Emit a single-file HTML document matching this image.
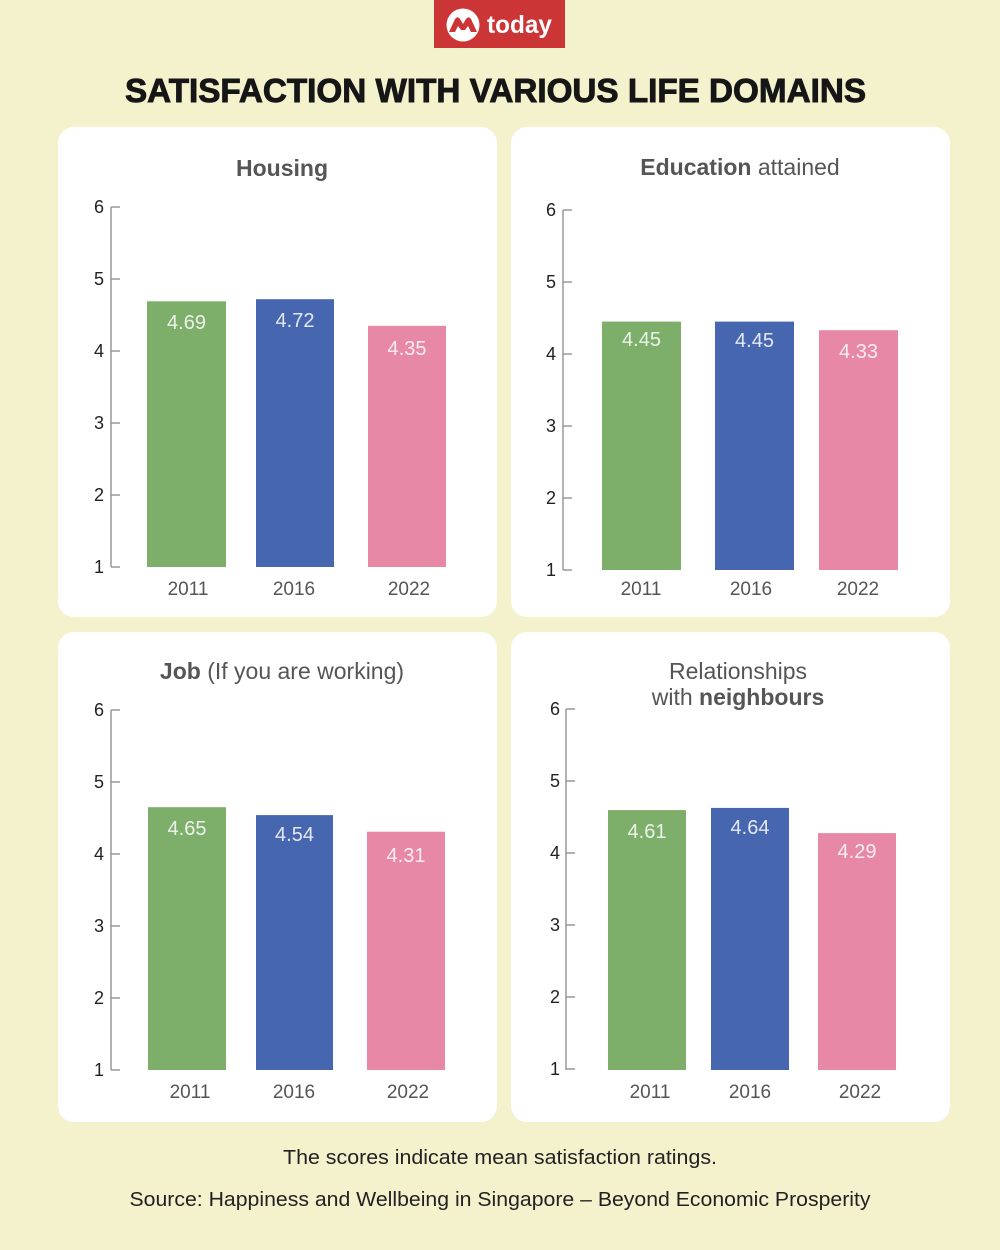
<!DOCTYPE html>
<html>
<head>
<meta charset="utf-8">
<style>
html,body{margin:0;padding:0;background:#f3f2cd;}
svg{display:block;}
text{font-family:"Liberation Sans",Arial,sans-serif;}
</style>
</head>
<body>
<svg width="1000" height="1250" viewBox="0 0 1000 1250" xmlns="http://www.w3.org/2000/svg">
<rect x="0" y="0" width="1000" height="1250" fill="#f3f2cd"/>

<!-- Logo -->
<rect x="434" y="0" width="131" height="48" fill="#cc3535"/>
<circle cx="463" cy="25" r="16.5" fill="#ffffff"/>
<path d="M449,32 L455,19 Q457.5,15.5 460,19 L463,24 L466,19 Q468.5,15.5 471,19 L477,32 L471,32 L468,26 L465,30 L461,30 L458,26 L455,32 Z" fill="#cc3535"/>
<text x="487" y="33" font-size="25" font-weight="bold" fill="#ffffff" textLength="65" lengthAdjust="spacingAndGlyphs">today</text>

<!-- Main title -->
<text x="125" y="102" font-size="33" font-weight="bold" fill="#161616" stroke="#161616" stroke-width="0.9" textLength="741" lengthAdjust="spacingAndGlyphs">SATISFACTION WITH VARIOUS LIFE DOMAINS</text>

<!-- Panels -->
<rect x="58" y="127" width="439" height="490" rx="16" fill="#ffffff"/>
<rect x="511" y="127" width="439" height="490" rx="16" fill="#ffffff"/>
<rect x="58" y="632" width="439" height="490" rx="16" fill="#ffffff"/>
<rect x="511" y="632" width="439" height="490" rx="16" fill="#ffffff"/>

<!-- Panel titles -->
<text x="282" y="176" font-size="23" font-weight="bold" fill="#555" text-anchor="middle">Housing</text>
<text x="740" y="175" font-size="23" fill="#555" text-anchor="middle"><tspan font-weight="bold">Education</tspan> attained</text>
<text x="282" y="679" font-size="23" fill="#555" text-anchor="middle"><tspan font-weight="bold">Job</tspan> (If you are working)</text>
<text x="738" y="679" font-size="23" fill="#555" text-anchor="middle">Relationships</text>
<text x="738" y="705" font-size="23" fill="#555" text-anchor="middle">with <tspan font-weight="bold">neighbours</tspan></text>

<!-- Panel 1 axis -->
<g stroke="#999" stroke-width="1.5" fill="none">
<line x1="111" y1="207" x2="111" y2="567"/>
<line x1="111" y1="207" x2="120" y2="207"/>
<line x1="111" y1="279" x2="120" y2="279"/>
<line x1="111" y1="351" x2="120" y2="351"/>
<line x1="111" y1="423" x2="120" y2="423"/>
<line x1="111" y1="495" x2="120" y2="495"/>
<line x1="111" y1="567" x2="120" y2="567"/>
</g>
<g font-size="18" fill="#222" text-anchor="end">
<text x="104" y="213">6</text>
<text x="104" y="285">5</text>
<text x="104" y="357">4</text>
<text x="104" y="429">3</text>
<text x="104" y="501">2</text>
<text x="104" y="573">1</text>
</g>
<rect x="147" y="301.3" width="79" height="265.7" fill="#7daf6b"/>
<rect x="256" y="299.2" width="78" height="267.8" fill="#4766b0"/>
<rect x="368" y="325.8" width="78" height="241.2" fill="#e688a6"/>
<g font-size="20" fill="#ffffff" fill-opacity="0.85" text-anchor="middle">
<text x="186.5" y="329">4.69</text>
<text x="295" y="327">4.72</text>
<text x="407" y="355">4.35</text>
</g>
<g font-size="19" fill="#555" text-anchor="middle">
<text x="188" y="595">2011</text>
<text x="294" y="595">2016</text>
<text x="409" y="595">2022</text>
</g>

<!-- Panel 2 axis -->
<g stroke="#999" stroke-width="1.5" fill="none">
<line x1="563" y1="210" x2="563" y2="570"/>
<line x1="563" y1="210" x2="572" y2="210"/>
<line x1="563" y1="282" x2="572" y2="282"/>
<line x1="563" y1="354" x2="572" y2="354"/>
<line x1="563" y1="426" x2="572" y2="426"/>
<line x1="563" y1="498" x2="572" y2="498"/>
<line x1="563" y1="570" x2="572" y2="570"/>
</g>
<g font-size="18" fill="#222" text-anchor="end">
<text x="556" y="216">6</text>
<text x="556" y="288">5</text>
<text x="556" y="360">4</text>
<text x="556" y="432">3</text>
<text x="556" y="504">2</text>
<text x="556" y="576">1</text>
</g>
<rect x="602" y="321.6" width="79" height="248.4" fill="#7daf6b"/>
<rect x="715" y="321.6" width="79" height="248.4" fill="#4766b0"/>
<rect x="819" y="330.2" width="79" height="239.8" fill="#e688a6"/>
<g font-size="20" fill="#ffffff" fill-opacity="0.85" text-anchor="middle">
<text x="641.5" y="346">4.45</text>
<text x="754.5" y="347">4.45</text>
<text x="858.5" y="358">4.33</text>
</g>
<g font-size="19" fill="#555" text-anchor="middle">
<text x="641" y="595">2011</text>
<text x="751" y="595">2016</text>
<text x="858" y="595">2022</text>
</g>

<!-- Panel 3 axis -->
<g stroke="#999" stroke-width="1.5" fill="none">
<line x1="111" y1="710" x2="111" y2="1070"/>
<line x1="111" y1="710" x2="120" y2="710"/>
<line x1="111" y1="782" x2="120" y2="782"/>
<line x1="111" y1="854" x2="120" y2="854"/>
<line x1="111" y1="926" x2="120" y2="926"/>
<line x1="111" y1="998" x2="120" y2="998"/>
<line x1="111" y1="1070" x2="120" y2="1070"/>
</g>
<g font-size="18" fill="#222" text-anchor="end">
<text x="104" y="716">6</text>
<text x="104" y="788">5</text>
<text x="104" y="860">4</text>
<text x="104" y="932">3</text>
<text x="104" y="1004">2</text>
<text x="104" y="1076">1</text>
</g>
<rect x="148" y="807.2" width="78" height="262.8" fill="#7daf6b"/>
<rect x="256" y="815.1" width="77" height="254.9" fill="#4766b0"/>
<rect x="367" y="831.7" width="78" height="238.3" fill="#e688a6"/>
<g font-size="20" fill="#ffffff" fill-opacity="0.85" text-anchor="middle">
<text x="187" y="835">4.65</text>
<text x="294.5" y="841">4.54</text>
<text x="406" y="862">4.31</text>
</g>
<g font-size="19" fill="#555" text-anchor="middle">
<text x="190" y="1098">2011</text>
<text x="294" y="1098">2016</text>
<text x="408" y="1098">2022</text>
</g>

<!-- Panel 4 axis -->
<g stroke="#999" stroke-width="1.5" fill="none">
<line x1="566" y1="709" x2="566" y2="1070"/>
<line x1="566" y1="709" x2="575" y2="709"/>
<line x1="566" y1="781" x2="575" y2="781"/>
<line x1="566" y1="853" x2="575" y2="853"/>
<line x1="566" y1="925" x2="575" y2="925"/>
<line x1="566" y1="997" x2="575" y2="997"/>
<line x1="566" y1="1069" x2="575" y2="1069"/>
</g>
<g font-size="18" fill="#222" text-anchor="end">
<text x="560" y="715">6</text>
<text x="560" y="787">5</text>
<text x="560" y="859">4</text>
<text x="560" y="931">3</text>
<text x="560" y="1003">2</text>
<text x="560" y="1075">1</text>
</g>
<rect x="608" y="810.1" width="78" height="259.9" fill="#7daf6b"/>
<rect x="711" y="807.9" width="78" height="262.1" fill="#4766b0"/>
<rect x="818" y="833.1" width="78" height="236.9" fill="#e688a6"/>
<g font-size="20" fill="#ffffff" fill-opacity="0.85" text-anchor="middle">
<text x="647" y="838">4.61</text>
<text x="750" y="834">4.64</text>
<text x="857" y="858">4.29</text>
</g>
<g font-size="19" fill="#555" text-anchor="middle">
<text x="650" y="1098">2011</text>
<text x="750" y="1098">2016</text>
<text x="860" y="1098">2022</text>
</g>

<!-- Footer -->
<text x="500" y="1164" font-size="20" fill="#222" text-anchor="middle" textLength="434" lengthAdjust="spacingAndGlyphs">The scores indicate mean satisfaction ratings.</text>
<text x="500" y="1206" font-size="20" fill="#222" text-anchor="middle" textLength="741" lengthAdjust="spacingAndGlyphs">Source: Happiness and Wellbeing in Singapore – Beyond Economic Prosperity</text>
</svg>
</body>
</html>
